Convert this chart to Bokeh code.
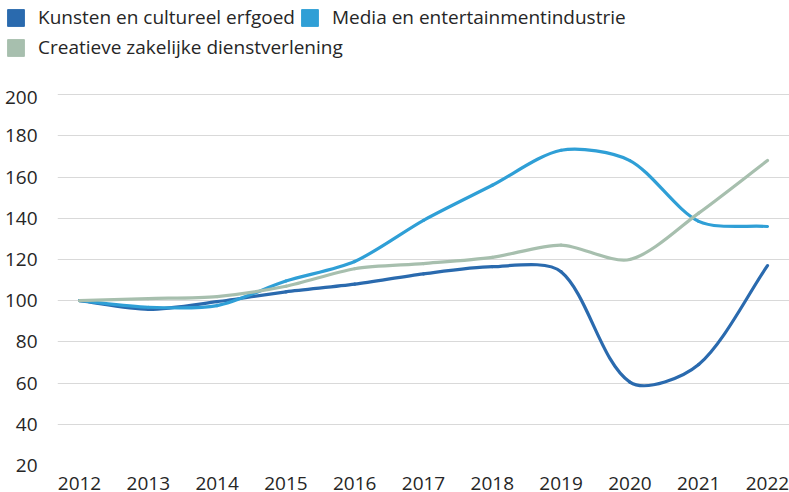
import math
from bokeh.plotting import figure
from bokeh.models import Legend, LegendItem, FixedTicker, ColumnDataSource, Range1d
from bokeh.embed import file_html
from bokeh.resources import INLINE

years = [2012, 2013, 2014, 2015, 2016, 2017, 2018, 2019, 2020, 2021, 2022]
kunsten = [100, 95.8, 99.5, 104.3, 108, 113, 116.5, 114, 60.5, 69, 117]
media = [100, 96.8, 97.6, 109.5, 119, 139, 156, 173, 168, 138.5, 136]
creatief = [100, 101, 102, 107, 115.5, 118, 121, 127, 120, 142.5, 168]

names = ["Kunsten en cultureel erfgoed", "Media en entertainmentindustrie",
         "Creatieve zakelijke dienstverlening"]
colors = ["#2a6aae", "#2f9fd6", "#a7bfae"]
y_ticks = [20, 40, 60, 80, 100, 120, 140, 160, 180, 200]

FONT = "Open Sans"
TXT = "#262626"
FS = "19px"

W = 789
LEG_H = 90
MAIN_H = 402
NAN = float("nan")

# ---------- legend strip ----------
lf = figure(width=W, height=LEG_H, output_backend="svg", toolbar_location=None,
            x_range=Range1d(0, 1), y_range=Range1d(0, 1),
            x_axis_location=None, y_axis_location=None,
            min_border_left=0, min_border_right=0, min_border_top=0, min_border_bottom=0)
lf.outline_line_color = None
lf.xgrid.visible = False
lf.ygrid.visible = False
legend_renderers = []
for col in colors:
    r = lf.quad(left=[NAN], right=[NAN], top=[NAN], bottom=[NAN],
                fill_color=col, line_color=col)
    legend_renderers.append(r)

leg_style = dict(label_text_font=FONT, label_text_font_size=FS, label_text_color=TXT,
                 glyph_width=21, glyph_height=21, spacing=4, label_standoff=12,
                 border_line_color=None, background_fill_alpha=0,
                 orientation="horizontal", margin=0, padding=0)
leg1 = Legend(items=[LegendItem(label=names[0], renderers=[legend_renderers[0]]),
                     LegendItem(label=names[1], renderers=[legend_renderers[1]])],
              location=(5, 60), **leg_style)
leg2 = Legend(items=[LegendItem(label=names[2], renderers=[legend_renderers[2]])],
              location=(5, 30), **leg_style)
lf.add_layout(leg1, "center")
lf.add_layout(leg2, "center")

# ---------- main chart ----------
p = figure(width=W, height=MAIN_H, output_backend="svg", toolbar_location=None,
           x_range=Range1d(2011.68, 2022.32), y_range=Range1d(20, 202),
           min_border_left=57, min_border_right=0, min_border_top=0, min_border_bottom=0)
p.outline_line_color = None
p.background_fill_color = "white"
p.border_fill_color = "white"

SX, SY = 68.0, 2.0  # approx px per data unit, for curve tangents


def bezier_segments(xs, ys, k=0.27):
    n = len(xs)
    px = [x * SX for x in xs]
    py = [y * SY for y in ys]
    tang = []
    for i in range(n):
        a = max(i - 1, 0)
        b = min(i + 1, n - 1)
        dx, dy = px[b] - px[a], py[b] - py[a]
        L = math.hypot(dx, dy) or 1.0
        tang.append((dx / L, dy / L))
    d = dict(x0=[], y0=[], x1=[], y1=[], cx0=[], cy0=[], cx1=[], cy1=[])
    for i in range(n - 1):
        seg = math.hypot(px[i + 1] - px[i], py[i + 1] - py[i])
        c0x = px[i] + tang[i][0] * seg * k
        c0y = py[i] + tang[i][1] * seg * k
        c1x = px[i + 1] - tang[i + 1][0] * seg * k
        c1y = py[i + 1] - tang[i + 1][1] * seg * k
        d["x0"].append(xs[i]); d["y0"].append(ys[i])
        d["x1"].append(xs[i + 1]); d["y1"].append(ys[i + 1])
        d["cx0"].append(c0x / SX); d["cy0"].append(c0y / SY)
        d["cx1"].append(c1x / SX); d["cy1"].append(c1y / SY)
    return ColumnDataSource(d)


for series, col in zip([kunsten, media, creatief], colors):
    src = bezier_segments(years, series)
    p.bezier(x0="x0", y0="y0", x1="x1", y1="y1", cx0="cx0", cy0="cy0",
             cx1="cx1", cy1="cy1", source=src, line_color=col, line_width=3.2,
             line_cap="round")

p.xaxis.ticker = FixedTicker(ticks=years)
p.yaxis.ticker = FixedTicker(ticks=y_ticks)
for ax in (p.xaxis, p.yaxis):
    ax.axis_line_color = None
    ax.major_tick_line_color = None
    ax.minor_tick_line_color = None
    ax.major_label_text_font = FONT
    ax.major_label_text_font_size = FS
    ax.major_label_text_color = TXT
p.xaxis.major_label_standoff = 5
p.yaxis.major_label_standoff = 14

p.xgrid.grid_line_color = None
p.ygrid.grid_line_color = "#d9d9d9"
p.ygrid.grid_line_width = 1

open("out.html", "w").write(file_html([lf, p], INLINE))
